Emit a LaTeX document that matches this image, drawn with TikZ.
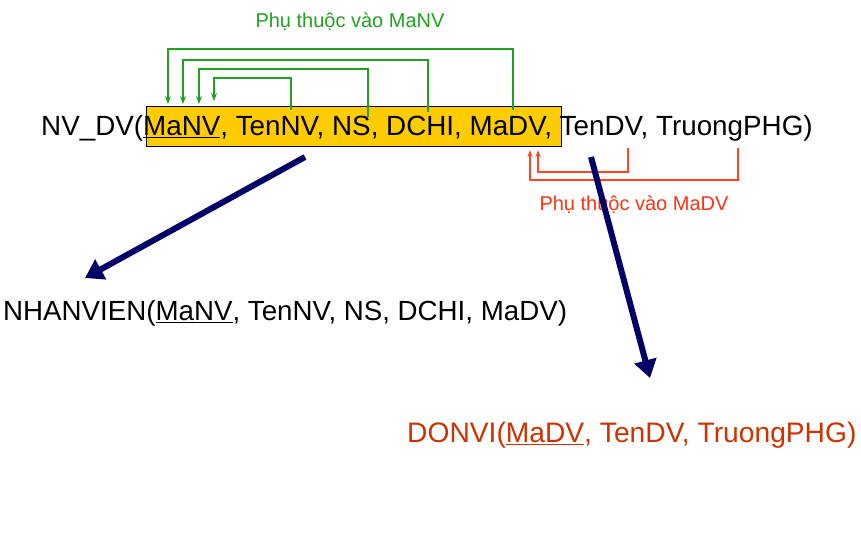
\documentclass[tikz,border=0pt]{standalone}
\usepackage{fontspec}
\setmainfont{Liberation Sans}
\usetikzlibrary{arrows.meta}
\definecolor{hlyellow}{HTML}{FFCC00}
\definecolor{depgreen}{HTML}{22A022}
\definecolor{depred}{HTML}{FF4422}
\definecolor{lblred}{HTML}{FF3311}
\definecolor{relred}{HTML}{CC3300}
\definecolor{navy}{HTML}{000066}
\newcommand{\keyul}[1]{\setbox0\hbox{#1}\rlap{\rule[-3.4pt]{\wd0}{1.5pt}}\box0}
\begin{document}
\begin{tikzpicture}[x=1pt,y=-1pt,
  rel/.style={inner sep=0pt, anchor=base west},
  lbl/.style={inner sep=0pt, font=\fontsize{20}{24}\selectfont},
  hlbox/.style={draw=black, line width=0.8pt, fill=hlyellow, inner sep=0pt},
  depg/.style={draw=depgreen, line width=1.2pt, -{Stealth[length=8pt,width=6pt]}},
  depr/.style={draw=depred, line width=1.1pt, -{Stealth[length=7pt,width=5pt]}},
  big/.style={draw=navy, line width=6pt, -{Triangle[length=18pt,width=22pt]}}
]
\useasboundingbox (0,0) rectangle (861,536);
\node[hlbox, minimum width=415pt, minimum height=40pt] (hl) at (353.5,126) {};
\node[rel, font=\fontsize{27.8}{34}\selectfont] (nvdv) at (41,135) {NV\_DV(\keyul{MaNV}, TenNV, NS, DCHI, MaDV, TenDV, TruongPHG)};
\node[rel, font=\fontsize{27.7}{34}\selectfont] (nhanvien) at (3,320) {NHANVIEN(\keyul{MaNV}, TenNV, NS, DCHI, MaDV)};
\node[rel, font=\fontsize{28.2}{34}\selectfont, text=relred] (donvi) at (407,442) {DONVI(\keyul{MaDV}, TenDV, TruongPHG)};
\node[lbl, text=depgreen] (lblnv) at (350,22) {Phụ thuộc vào MaNV};
\node[lbl, text=lblred] (lbldv) at (634,205) {Phụ thuộc vào MaDV};
% green dependencies
\coordinate (g1s) at (513,110); \coordinate (g1e) at (168,104);
\coordinate (g2s) at (428,112); \coordinate (g2e) at (183,104);
\coordinate (g3s) at (368,117); \coordinate (g3e) at (199,104);
\coordinate (g4s) at (291,110); \coordinate (g4e) at (214,101);
\draw[depg] (g1s) -- ++(0,-61) -| (g1e);
\draw[depg] (g2s) -- ++(0,-52) -| (g2e);
\draw[depg] (g3s) -- ++(0,-48) -| (g3e);
\draw[depg] (g4s) -- ++(0,-32) -| (g4e);
% red dependencies
\coordinate (r1s) at (628,148); \coordinate (r1e) at (538,150);
\coordinate (r2s) at (738,148); \coordinate (r2e) at (530,150);
\draw[depr] (r1s) -- ++(0,24) -| (r1e);
\draw[depr] (r2s) -- ++(0,32) -| (r2e);
% decomposition arrows
\coordinate (b1s) at (305,157); \coordinate (b1e) at (85,278);
\coordinate (b2s) at (591,157); \coordinate (b2e) at (650,378);
\draw[big] (b1s) -- (b1e);
\draw[big] (b2s) -- (b2e);
\end{tikzpicture}
\end{document}
